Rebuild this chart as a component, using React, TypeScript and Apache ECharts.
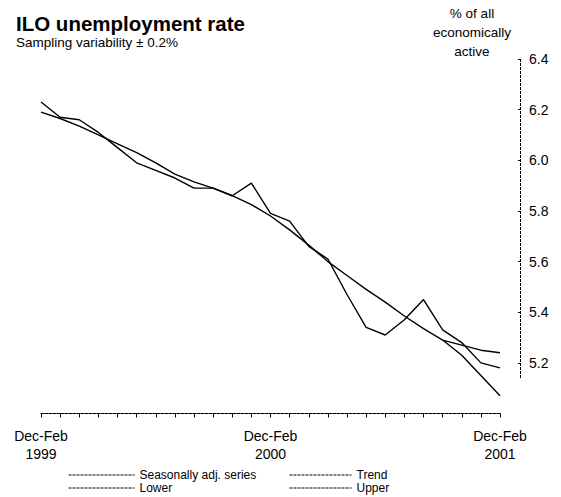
import { useEffect, useRef } from 'react';
import * as echarts from 'echarts';

const CATEGORIES = [
  'Dec-Feb 1999', 'Jan-Mar 1999', 'Feb-Apr 1999', 'Mar-May 1999', 'Apr-Jun 1999',
  'May-Jul 1999', 'Jun-Aug 1999', 'Jul-Sep 1999', 'Aug-Oct 1999', 'Sep-Nov 1999',
  'Oct-Dec 1999', 'Nov-Jan 2000', 'Dec-Feb 2000', 'Jan-Mar 2000', 'Feb-Apr 2000',
  'Mar-May 2000', 'Apr-Jun 2000', 'May-Jul 2000', 'Jun-Aug 2000', 'Jul-Sep 2000',
  'Aug-Oct 2000', 'Sep-Nov 2000', 'Oct-Dec 2000', 'Nov-Jan 2001', 'Dec-Feb 2001',
];

const SEASONALLY_ADJ = [
  6.23, 6.17, 6.16, 6.11, 6.05, 5.99, 5.96, 5.93, 5.89, 5.89, 5.86, 5.91, 5.79,
  5.76, 5.66, 5.61, 5.47, 5.34, 5.31, 5.37, 5.45, 5.33, 5.28, 5.2, 5.18,
];

const TREND = [
  6.19, 6.165, 6.135, 6.1, 6.065, 6.03, 5.99, 5.945, 5.915, 5.89, 5.86, 5.825, 5.78,
  5.725, 5.665, 5.6, 5.545, 5.49, 5.44, 5.385, 5.335, 5.29, null, null, null,
];

const LOWER = [
  null, null, null, null, null, null, null, null, null, null, null, null, null,
  null, null, null, null, null, null, null, null, 5.29, 5.23, 5.15, 5.07,
];

const UPPER = [
  null, null, null, null, null, null, null, null, null, null, null, null, null,
  null, null, null, null, null, null, null, null, 5.29, 5.27, 5.25, 5.24,
];

const Y_TICKS = [5.2, 5.4, 5.6, 5.8, 6.0, 6.2, 6.4];
const Y_MIN = 5.0;
const Y_MAX = 6.4;
const Y_AXIS_LINE_BOTTOM = 5.14;

const FONT = '"Liberation Sans", Arial, Helvetica, sans-serif';

export default function App() {
  const ref = useRef<HTMLDivElement>(null);

  useEffect(() => {
    document.body.style.margin = '0';
    const chart = echarts.init(ref.current!, null, { renderer: 'svg' });
    const lineStyle = { color: '#000', width: 1.4 };
    const mk = (name: string, data: (number | null)[]) => ({
      name,
      type: 'line',
      data,
      symbol: 'none',
      showSymbol: false,
      lineStyle,
      itemStyle: { color: '#000' },
      emphasis: { disabled: true },
      silent: true,
    });
    const legendCommon = {
      orient: 'vertical',
      top: 469,
      itemWidth: 66,
      itemHeight: 12,
      itemGap: 1,
      padding: 0,
      selectedMode: false,
      itemStyle: { opacity: 0 },
      textStyle: { fontSize: 12, color: '#000', fontFamily: FONT, lineHeight: 12 },
      lineStyle: { type: [3, 1], width: 1, color: '#000' },
    };
    chart.setOption({
      animation: false,
      backgroundColor: '#fff',
      textStyle: { fontFamily: FONT },
      grid: { left: 41, right: 61, top: 59, bottom: 83.5, containLabel: false },
      xAxis: {
        type: 'category',
        data: CATEGORIES,
        boundaryGap: false,
        axisLine: { lineStyle: { color: '#000', width: 1, type: [3, 1] } },
        axisTick: { show: true, interval: 0, length: 4, lineStyle: { color: '#000' } },
        axisLabel: {
          interval: 11,
          formatter: (v: string) => v.replace(' ', '\n'),
          color: '#000',
          fontSize: 14,
          lineHeight: 18.5,
          margin: 13,
          fontFamily: FONT,
        },
        splitLine: { show: false },
      },
      yAxis: {
        type: 'value',
        position: 'right',
        offset: 20,
        min: Y_MIN,
        max: Y_MAX,
        interval: 0.2,
        axisLine: { show: false },
        axisTick: { show: true, inside: true, length: 2, customValues: Y_TICKS, lineStyle: { color: '#000' } },
        axisLabel: {
          customValues: Y_TICKS,
          formatter: (v: number) => (v < 5.1 ? '' : v.toFixed(1)),
          color: '#000',
          fontSize: 14,
          margin: 9,
          fontFamily: FONT,
        },
        splitLine: { show: false },
      },
      legend: [
        { ...legendCommon, left: 68, data: ['Seasonally adj. series', 'Lower'] },
        { ...legendCommon, left: 289, itemWidth: 62, data: ['Trend', 'Upper'] },
      ],
      series: [
        mk('Seasonally adj. series', SEASONALLY_ADJ),
        mk('Trend', TREND),
        mk('Lower', LOWER),
        mk('Upper', UPPER),
      ],
      graphic: [
        {
          id: 'title',
          type: 'text',
          x: 16,
          y: 23,
          style: { text: 'ILO unemployment rate', font: `bold 20.5px ${FONT}`, fill: '#000', verticalAlign: 'middle' },
        },
        {
          id: 'subtitle',
          type: 'text',
          x: 16,
          y: 42.5,
          style: { text: 'Sampling variability \u00b1 0.2%', font: `13.5px ${FONT}`, fill: '#000', verticalAlign: 'middle' },
        },
        {
          id: 'unit',
          type: 'text',
          x: 472,
          y: 4,
          style: {
            text: '% of all\neconomically\nactive',
            font: `13.5px ${FONT}`,
            lineHeight: 19,
            fill: '#000',
            align: 'center',
            verticalAlign: 'top',
          },
        },
      ],
    });
    const lastX = chart.convertToPixel({ xAxisIndex: 0 }, CATEGORIES[CATEGORIES.length - 1]) as number;
    const yTop = chart.convertToPixel({ yAxisIndex: 0 }, Y_MAX) as number;
    const yBot = chart.convertToPixel({ yAxisIndex: 0 }, Y_AXIS_LINE_BOTTOM) as number;
    const ax = Math.round(lastX + 20) + 0.5;
    chart.setOption({
      graphic: [
        {
          id: 'yAxisLine',
          type: 'line',
          shape: { x1: ax, y1: yTop, x2: ax, y2: yBot },
          style: { stroke: '#000', lineWidth: 1, lineDash: [3, 1] },
        },
      ],
    });
    return () => chart.dispose();
  }, []);

  return <div ref={ref} style={{ width: 561, height: 497 }} />;
}
